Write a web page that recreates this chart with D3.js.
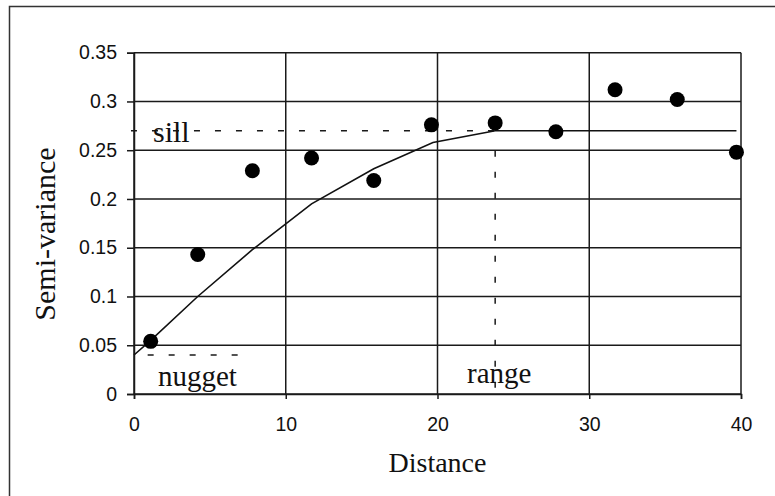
<!DOCTYPE html>
<html>

<head>
    <meta charset="utf-8">
    <title>Semi-variogram</title>
    <script src="https://d3js.org/d3.v7.min.js"></script>
    <style>
        body { margin: 0; background: #fff; }
        .tick text { font-family: "Liberation Sans", Arial, sans-serif; font-size: 19.5px; fill: #111; }
        .serif { font-family: "Liberation Serif", "Times New Roman", serif; fill: #111; }
    </style>
</head>

<body>
    <script>
        var lagDist = [1.1, 4.2, 7.8, 11.7, 15.8, 19.6, 23.8, 27.8, 31.7, 35.8, 39.7];
        var semiVar = [0.054, 0.143, 0.229, 0.242, 0.219, 0.276, 0.278, 0.269, 0.312, 0.302, 0.248];

        // fitted model line
        var modelDist = [0, 1.1, 4.2, 7.8, 11.7, 15.8, 19.7, 23.8, 27.8, 31.7, 35.8, 39.7];
        var modelVar = [0.04, 0.055, 0.1, 0.148, 0.195, 0.231, 0.258, 0.27, 0.27, 0.27, 0.27, 0.27];

        var xTicks = [0, 10, 20, 30, 40];
        var yTicks = [0, 0.05, 0.1, 0.15, 0.2, 0.25, 0.3, 0.35];
        var yTickLabels = ["0", "0.05", "0.1", "0.15", "0.2", "0.25", "0.3", "0.35"];

        var sill = 0.27, nugget = 0.04, range = 23.8;

        var w = 775,
            h = 496;

        var x = d3.scaleLinear().domain([0, 40]).range([134, 741]);
        var y = d3.scaleLinear().domain([0, 0.35]).range([394, 52.7]);

        var svg = d3.select("body").append("svg")
            .attr("width", w)
            .attr("height", h);

        // outer frame (right and bottom fall outside the picture)
        svg.append("rect")
            .attr("x", 9.5).attr("y", 6.5)
            .attr("width", 800).attr("height", 520)
            .attr("fill", "none")
            .attr("stroke", "#333")
            .attr("stroke-width", 1.5);

        // grid
        var grid = svg.append("g").attr("stroke", "#1a1a1a").attr("stroke-width", 1.5);
        grid.selectAll("line.h").data(yTicks).enter().append("line")
            .attr("class", "h")
            .attr("x1", x(0)).attr("x2", x(40))
            .attr("y1", function(d) { return y(d); })
            .attr("y2", function(d) { return y(d); });
        grid.selectAll("line.v").data(xTicks).enter().append("line")
            .attr("class", "v")
            .attr("y1", y(0)).attr("y2", y(0.35))
            .attr("x1", function(d) { return x(d); })
            .attr("x2", function(d) { return x(d); });

        // axes
        var yAxis = d3.axisLeft(y).tickValues(yTicks)
            .tickFormat(function(d, i) { return yTickLabels[i]; })
            .tickSize(7).tickPadding(10);
        var xAxis = d3.axisBottom(x).tickValues(xTicks)
            .tickFormat(d3.format("d"))
            .tickSize(5).tickPadding(18);

        svg.append("g").attr("transform", "translate(" + x(0) + ",0)").call(yAxis);
        svg.append("g").attr("transform", "translate(0," + y(0) + ")").call(xAxis);
        svg.selectAll(".domain").attr("stroke", "#1a1a1a").attr("stroke-width", 1.5);
        svg.selectAll(".tick line").attr("stroke", "#1a1a1a").attr("stroke-width", 1.5);

        // dashed guides for sill, nugget and range
        var dash = svg.append("g")
            .attr("stroke", "#1a1a1a")
            .attr("stroke-width", 1.5)
            .attr("stroke-dasharray", "6,15");
        dash.append("line")
            .attr("x1", x(-0.2)).attr("x2", x(range))
            .attr("y1", y(sill)).attr("y2", y(sill));
        dash.append("line")
            .attr("x1", x(0.9)).attr("x2", x(6.9))
            .attr("y1", y(nugget)).attr("y2", y(nugget));
        dash.append("line")
            .attr("x1", x(range)).attr("x2", x(range))
            .attr("y1", y(sill) + 20).attr("y2", y(0));

        // model line
        var line = d3.line()
            .x(function(d, i) { return x(modelDist[i]); })
            .y(function(d) { return y(d); });
        svg.append("path")
            .datum(modelVar)
            .attr("d", line)
            .attr("fill", "none")
            .attr("stroke", "#111")
            .attr("stroke-width", 1.6);

        // points
        svg.selectAll("circle").data(semiVar).enter().append("circle")
            .attr("cx", function(d, i) { return x(lagDist[i]); })
            .attr("cy", function(d) { return y(d); })
            .attr("r", 7.5)
            .attr("fill", "#000");

        // labels
        svg.append("text").attr("class", "serif")
            .attr("x", 153).attr("y", 142)
            .style("font-size", "30px")
            .text("sill");
        svg.append("text").attr("class", "serif")
            .attr("x", 158).attr("y", 386)
            .style("font-size", "29px")
            .text("nugget");
        svg.append("text").attr("class", "serif")
            .attr("x", 467).attr("y", 383)
            .style("font-size", "29px")
            .text("range");
        svg.append("text").attr("class", "serif")
            .attr("x", x(20)).attr("y", 472)
            .attr("text-anchor", "middle")
            .style("font-size", "28px")
            .text("Distance");
        svg.append("text").attr("class", "serif")
            .attr("transform", "translate(55," + 234 + ") rotate(-90)")
            .attr("text-anchor", "middle")
            .style("font-size", "30px")
            .text("Semi-variance");
    </script>
</body>
</html>
